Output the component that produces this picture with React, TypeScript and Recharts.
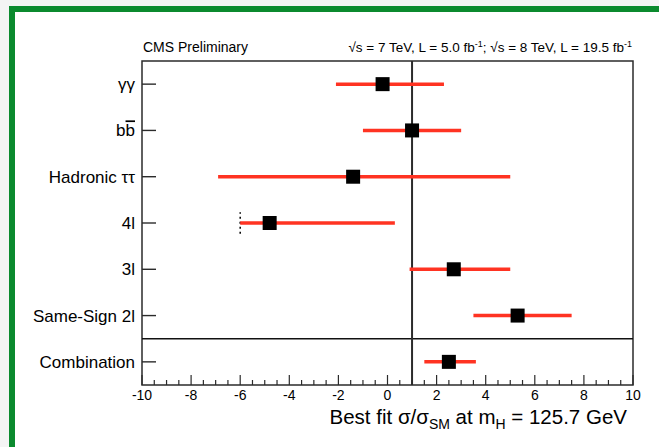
import React from "react";
import {
  ScatterChart,
  Scatter,
  XAxis,
  YAxis,
  ErrorBar,
  ReferenceLine,
  ReferenceArea,
} from "recharts";

// ─── Data (bottom to top) ─────────────────────────────────────────────────────

const channels = ["Combination", "Same-Sign 2l", "3l", "4l", "Hadronic ττ", "bb̄", "γγ"];
const bestFit = [2.5, 5.3, 2.7, -4.8, -1.4, 1.0, -0.2];
const errLow = [1.0, 1.8, 1.8, 1.2, 5.5, 2.0, 1.9];
const errHigh = [1.1, 2.2, 2.3, 5.1, 6.4, 2.0, 2.5];
// physical boundary markers (channel index, x value)
const limits = [{ channel: 3, x: -6 }];

const smValue = 1;
const xTicks: number[] = [];
for (let v = -10; v <= 10; v += 0.5) xTicks.push(v);

const rows = channels.map((name, i) => ({
  name,
  x: bestFit[i],
  y: i + 0.5,
  err: [errLow[i], errHigh[i]],
}));

const FONT = '"Liberation Sans", Arial, Helvetica, sans-serif';
const RED = "#ff3322";
const LINE = "#2b2b2b";

// ─── Axis ticks ───────────────────────────────────────────────────────────────

function XTick({ x, y, payload }: any) {
  const v = payload.value as number;
  const major = Math.abs(v % 2) < 1e-9;
  return (
    <g>
      <line x1={x} x2={x} y1={y} y2={y - (major ? 10 : 5)} stroke={LINE} strokeWidth={1.2} />
      {major && (
        <text x={x} y={y + 15} textAnchor="middle" fontSize={14} fontFamily={FONT} fill="#000">
          {v}
        </text>
      )}
    </g>
  );
}

function YTick({ x, y, payload }: any) {
  const idx = Math.round(payload.value - 0.5);
  const name = channels[idx];
  return (
    <g>
      <line x1={x} x2={x + 14} y1={y} y2={y} stroke={LINE} strokeWidth={1.4} />
      <text x={x - 7} y={y} dy="0.35em" textAnchor="end" fontSize={17} fontFamily={FONT} fill="#000">
        {name === "bb̄" ? (
          <>
            <tspan>b</tspan>
            <tspan style={{ textDecoration: "overline" }}>b</tspan>
          </>
        ) : (
          name
        )}
      </text>
    </g>
  );
}

function Marker({ cx, cy }: any) {
  return <rect x={cx - 7} y={cy - 7} width={14} height={14} fill="#000" />;
}

// ─── Chart ────────────────────────────────────────────────────────────────────

export default function App() {
  return (
    <div
      style={{
        position: "absolute",
        left: 0,
        top: 0,
        width: 659,
        height: 447,
        background: "#f4f4f4",
        overflow: "hidden",
        fontFamily: FONT,
      }}
    >
      <div style={{ position: "absolute", left: 9, top: 6, right: 0, bottom: 0, background: "#0b8a2e" }} />
      <div style={{ position: "absolute", left: 15, top: 12, right: 0, bottom: 0, background: "#fff" }} />

      <div style={{ position: "absolute", left: 0, top: 0 }}>
        <ScatterChart width={659} height={447} margin={{ top: 61, right: 26, bottom: 0, left: 0 }}>
          <XAxis
            type="number"
            dataKey="x"
            domain={[-10, 10]}
            ticks={xTicks}
            interval={0}
            height={62}
            axisLine={false}
            tickLine={false}
            tickSize={0}
            tickMargin={0}
            tick={<XTick />}
          />
          <YAxis
            type="number"
            dataKey="y"
            domain={[0, channels.length]}
            ticks={channels.map((_, i) => i + 0.5)}
            interval={0}
            width={142}
            axisLine={false}
            tickLine={false}
            tickSize={0}
            tickMargin={0}
            tick={<YTick />}
          />
          <ReferenceArea
            x1={-10}
            x2={10}
            y1={0}
            y2={channels.length}
            fill="none"
            stroke={LINE}
            strokeWidth={1.5}
          />
          <ReferenceLine y={1} stroke="#111" strokeWidth={1.5} />
          <ReferenceLine x={smValue} stroke={LINE} strokeWidth={2} />
          {limits.map((l) => (
            <ReferenceLine
              key={l.channel}
              segment={[
                { x: l.x, y: l.channel + 0.27 },
                { x: l.x, y: l.channel + 0.73 },
              ]}
              stroke="#000"
              strokeWidth={1.5}
              strokeDasharray="2 3"
            />
          ))}
          <Scatter data={rows} shape={<Marker />} isAnimationActive={false}>
            <ErrorBar
              dataKey="err"
              direction="x"
              width={0}
              stroke={RED}
              strokeWidth={3.5}
              isAnimationActive={false}
            />
          </Scatter>
        </ScatterChart>
      </div>

      <svg
        width={659}
        height={447}
        style={{ position: "absolute", left: 0, top: 0, pointerEvents: "none" }}
        fontFamily={FONT}
      >
        <text x={143} y={52} fontSize={14} fill="#000">
          CMS Preliminary
        </text>
        <text x={632} y={52} fontSize={13.5} fill="#000" textAnchor="end">
          √s = 7 TeV, L = 5.0 fb<tspan dy={-5} fontSize={9}>-1</tspan>
          <tspan dy={5}>; √s = 8 TeV, L = 19.5 fb</tspan>
          <tspan dy={-5} fontSize={9}>-1</tspan>
        </text>
        <text x={627} y={424} fontSize={20.5} fill="#000" textAnchor="end">
          Best fit σ/σ<tspan dy={5} fontSize={14}>SM</tspan>
          <tspan dy={-5}> at m</tspan>
          <tspan dy={5} fontSize={14}>H</tspan>
          <tspan dy={-5}> = 125.7 GeV</tspan>
        </text>
      </svg>
    </div>
  );
}
